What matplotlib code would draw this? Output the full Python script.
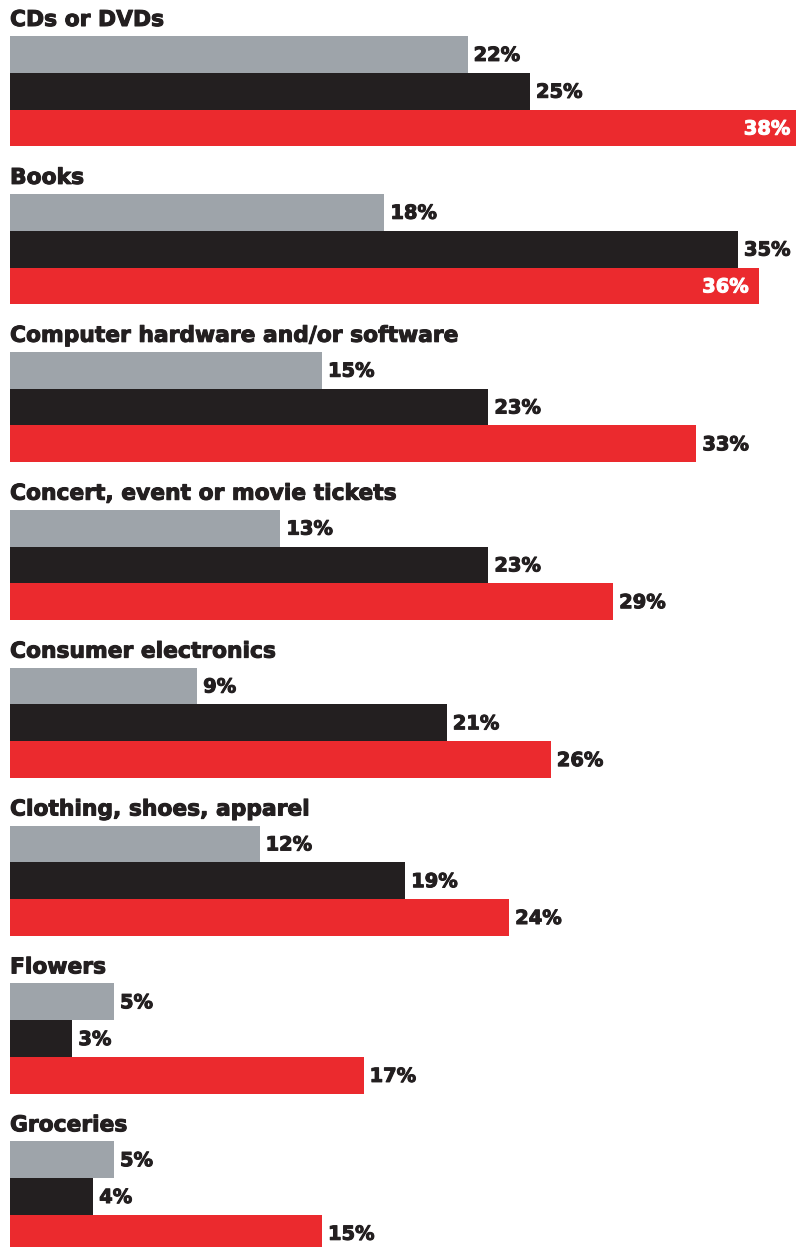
import matplotlib
matplotlib.use("Agg")
import matplotlib.pyplot as plt
import matplotlib.patheffects as pe

categories = [
    "CDs or DVDs",
    "Books",
    "Computer hardware and/or software",
    "Concert, event or movie tickets",
    "Consumer electronics",
    "Clothing, shoes, apparel",
    "Flowers",
    "Groceries",
]
series_gray = [22, 18, 15, 13, 9, 12, 5, 5]
series_black = [25, 35, 23, 23, 21, 19, 3, 4]
series_red = [38, 36, 33, 29, 26, 24, 17, 15]

colors = ["#9ea4aa", "#231f20", "#eb2a2e"]
ink = "#231f20"

FONT = "DejaVu Sans"
W, H = 796, 1247
fig = plt.figure(figsize=(W / 100, H / 100), dpi=100)
ax = fig.add_axes([0, 0, 1, 1])

px_per_pct = 20.8
left_px = 10
ax.set_xlim(-left_px / px_per_pct, (W - left_px) / px_per_pct)
ax.set_ylim(H, 0)
ax.axis("off")

bar_h = 36.8
group_step = 157.9
first_top = 36.0


def heavy(color):
    return [pe.withStroke(linewidth=0.75, foreground=color)]


for i, cat in enumerate(categories):
    top = first_top + i * group_step
    ax.text(0, top - 10, cat, ha="left", va="baseline", fontsize=15.7,
            fontfamily=FONT, fontweight="bold", color=ink,
            path_effects=heavy(ink))
    for k, (vals, c) in enumerate(zip((series_gray, series_black, series_red), colors)):
        v = vals[i]
        yc = top + bar_h * (k + 0.5)
        ax.barh(yc, v, height=bar_h, left=0, color=c, edgecolor="none")
        label = f"{v}%"
        if v >= 36:
            ax.text(v - 10 / px_per_pct, yc + 1, label, ha="right", va="center",
                    fontsize=14, fontfamily=FONT, fontweight="bold", color="white",
                    path_effects=heavy("white"))
        else:
            ax.text(v + 6 / px_per_pct, yc + 1, label, ha="left", va="center",
                    fontsize=14, fontfamily=FONT, fontweight="bold", color=ink,
                    path_effects=heavy(ink))

fig.savefig("out.png", dpi=100)
